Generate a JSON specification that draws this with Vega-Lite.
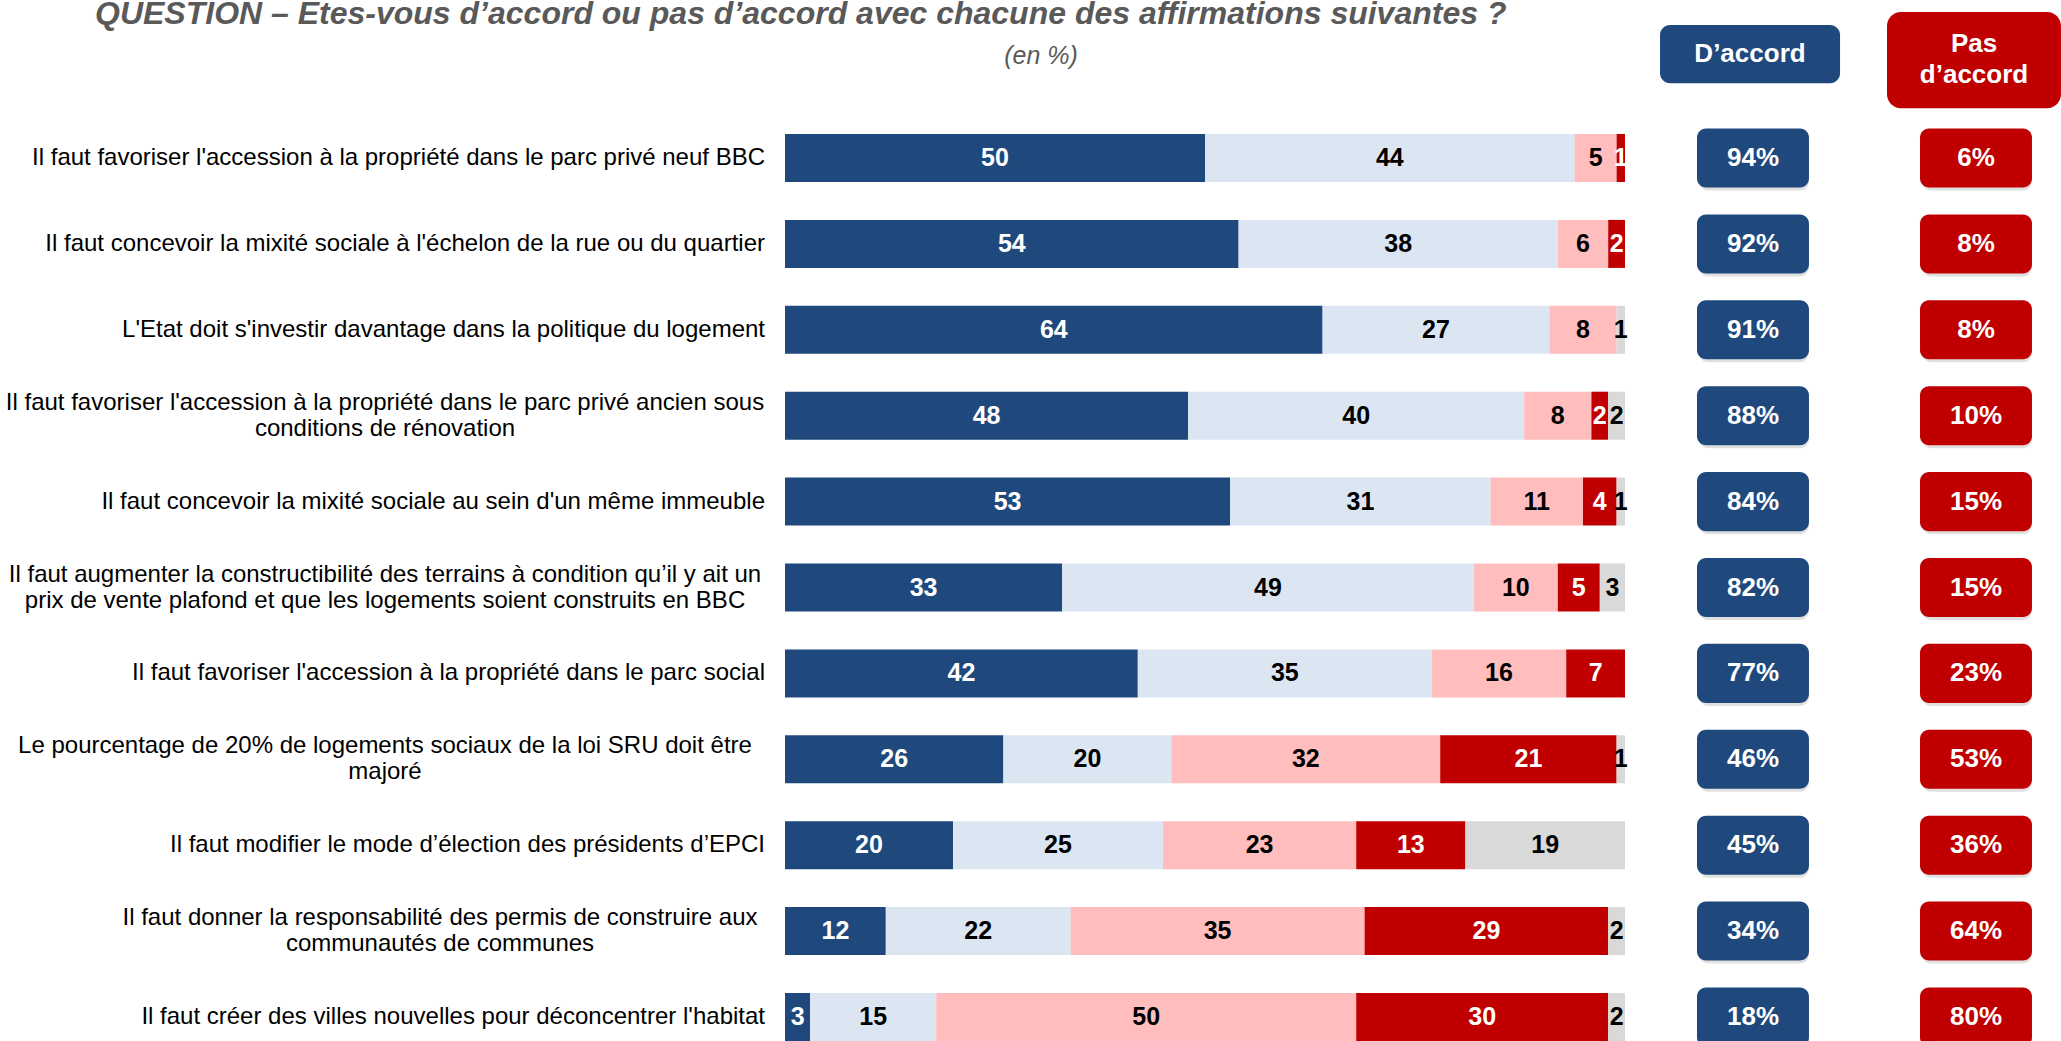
{
  "$schema": "https://vega.github.io/schema/vega-lite/v6.json",
  "width": 1276,
  "height": 1041,
  "autosize": {"type": "none"},
  "padding": {"left": 785, "top": 0, "right": 0, "bottom": 0},
  "background": "white",
  "config": {"view": {"stroke": null}, "text": {"font": "Liberation Sans"}},
  "datasets": {
    "seg": [
      {"id": "q01", "cat": "Tout à fait d’accord", "rang": 1, "value": 50},
      {"id": "q01", "cat": "Plutôt d’accord", "rang": 2, "value": 44},
      {"id": "q01", "cat": "Plutôt pas d’accord", "rang": 3, "value": 5},
      {"id": "q01", "cat": "Pas du tout d’accord", "rang": 4, "value": 1},
      {"id": "q02", "cat": "Tout à fait d’accord", "rang": 1, "value": 54},
      {"id": "q02", "cat": "Plutôt d’accord", "rang": 2, "value": 38},
      {"id": "q02", "cat": "Plutôt pas d’accord", "rang": 3, "value": 6},
      {"id": "q02", "cat": "Pas du tout d’accord", "rang": 4, "value": 2},
      {"id": "q03", "cat": "Tout à fait d’accord", "rang": 1, "value": 64},
      {"id": "q03", "cat": "Plutôt d’accord", "rang": 2, "value": 27},
      {"id": "q03", "cat": "Plutôt pas d’accord", "rang": 3, "value": 8},
      {"id": "q03", "cat": "NSP", "rang": 5, "value": 1},
      {"id": "q04", "cat": "Tout à fait d’accord", "rang": 1, "value": 48},
      {"id": "q04", "cat": "Plutôt d’accord", "rang": 2, "value": 40},
      {"id": "q04", "cat": "Plutôt pas d’accord", "rang": 3, "value": 8},
      {"id": "q04", "cat": "Pas du tout d’accord", "rang": 4, "value": 2},
      {"id": "q04", "cat": "NSP", "rang": 5, "value": 2},
      {"id": "q05", "cat": "Tout à fait d’accord", "rang": 1, "value": 53},
      {"id": "q05", "cat": "Plutôt d’accord", "rang": 2, "value": 31},
      {"id": "q05", "cat": "Plutôt pas d’accord", "rang": 3, "value": 11},
      {"id": "q05", "cat": "Pas du tout d’accord", "rang": 4, "value": 4},
      {"id": "q05", "cat": "NSP", "rang": 5, "value": 1},
      {"id": "q06", "cat": "Tout à fait d’accord", "rang": 1, "value": 33},
      {"id": "q06", "cat": "Plutôt d’accord", "rang": 2, "value": 49},
      {"id": "q06", "cat": "Plutôt pas d’accord", "rang": 3, "value": 10},
      {"id": "q06", "cat": "Pas du tout d’accord", "rang": 4, "value": 5},
      {"id": "q06", "cat": "NSP", "rang": 5, "value": 3},
      {"id": "q07", "cat": "Tout à fait d’accord", "rang": 1, "value": 42},
      {"id": "q07", "cat": "Plutôt d’accord", "rang": 2, "value": 35},
      {"id": "q07", "cat": "Plutôt pas d’accord", "rang": 3, "value": 16},
      {"id": "q07", "cat": "Pas du tout d’accord", "rang": 4, "value": 7},
      {"id": "q08", "cat": "Tout à fait d’accord", "rang": 1, "value": 26},
      {"id": "q08", "cat": "Plutôt d’accord", "rang": 2, "value": 20},
      {"id": "q08", "cat": "Plutôt pas d’accord", "rang": 3, "value": 32},
      {"id": "q08", "cat": "Pas du tout d’accord", "rang": 4, "value": 21},
      {"id": "q08", "cat": "NSP", "rang": 5, "value": 1},
      {"id": "q09", "cat": "Tout à fait d’accord", "rang": 1, "value": 20},
      {"id": "q09", "cat": "Plutôt d’accord", "rang": 2, "value": 25},
      {"id": "q09", "cat": "Plutôt pas d’accord", "rang": 3, "value": 23},
      {"id": "q09", "cat": "Pas du tout d’accord", "rang": 4, "value": 13},
      {"id": "q09", "cat": "NSP", "rang": 5, "value": 19},
      {"id": "q10", "cat": "Tout à fait d’accord", "rang": 1, "value": 12},
      {"id": "q10", "cat": "Plutôt d’accord", "rang": 2, "value": 22},
      {"id": "q10", "cat": "Plutôt pas d’accord", "rang": 3, "value": 35},
      {"id": "q10", "cat": "Pas du tout d’accord", "rang": 4, "value": 29},
      {"id": "q10", "cat": "NSP", "rang": 5, "value": 2},
      {"id": "q11", "cat": "Tout à fait d’accord", "rang": 1, "value": 3},
      {"id": "q11", "cat": "Plutôt d’accord", "rang": 2, "value": 15},
      {"id": "q11", "cat": "Plutôt pas d’accord", "rang": 3, "value": 50},
      {"id": "q11", "cat": "Pas du tout d’accord", "rang": 4, "value": 30},
      {"id": "q11", "cat": "NSP", "rang": 5, "value": 2}
    ],
    "stmt": [
      {"id": "q01", "label": "Il faut favoriser l'accession à la propriété dans le parc privé neuf BBC", "lignes": 1, "accord": 0.94, "pas": 0.06},
      {"id": "q02", "label": "Il faut concevoir la mixité sociale à l'échelon de la rue ou du quartier", "lignes": 1, "accord": 0.92, "pas": 0.08},
      {"id": "q03", "label": "L'Etat doit s'investir davantage dans la politique du logement", "lignes": 1, "accord": 0.91, "pas": 0.08},
      {"id": "q04", "label": "Il faut favoriser l'accession à la propriété dans le parc privé ancien sous\nconditions de rénovation", "lignes": 2, "accord": 0.88, "pas": 0.10},
      {"id": "q05", "label": "Il faut concevoir la mixité sociale au sein d'un même immeuble", "lignes": 1, "accord": 0.84, "pas": 0.15},
      {"id": "q06", "label": "Il faut augmenter la constructibilité des terrains à condition qu’il y ait un\nprix de vente plafond et que les logements soient construits en BBC", "lignes": 2, "accord": 0.82, "pas": 0.15},
      {"id": "q07", "label": "Il faut favoriser l'accession à la propriété dans le parc social", "lignes": 1, "accord": 0.77, "pas": 0.23},
      {"id": "q08", "label": "Le pourcentage de 20% de logements sociaux de la loi SRU doit être\nmajoré", "lignes": 2, "accord": 0.46, "pas": 0.53},
      {"id": "q09", "label": "Il faut modifier le mode d’élection des présidents d’EPCI", "lignes": 1, "accord": 0.45, "pas": 0.36},
      {"id": "q10", "label": "Il faut donner la responsabilité des permis de construire aux\ncommunautés de communes", "lignes": 2, "accord": 0.34, "pas": 0.64},
      {"id": "q11", "label": "Il faut créer des villes nouvelles pour déconcentrer l'habitat", "lignes": 1, "accord": 0.18, "pas": 0.80}
    ],
    "head": [{"id": "H"}]
  },
  "encoding": {
    "y": {
      "field": "id",
      "type": "nominal",
      "axis": null,
      "scale": {
        "type": "band",
        "domain": ["H", "q01", "q02", "q03", "q04", "q05", "q06", "q07", "q08", "q09", "q10", "q11"],
        "paddingInner": 0.441,
        "paddingOuter": 0.28,
        "align": 1,
        "round": false
      }
    }
  },
  "layer": [
    {
      "data": {"name": "seg"},
      "transform": [
        {"stack": "value", "groupby": ["id"], "sort": [{"field": "rang", "order": "ascending"}], "as": ["v0", "v1"]}
      ],
      "mark": {"type": "bar"},
      "encoding": {
        "x": {"field": "v0", "type": "quantitative", "axis": null, "scale": {"domain": [0, 151.905], "nice": false, "zero": false}},
        "x2": {"field": "v1"},
        "color": {
          "field": "cat",
          "type": "nominal",
          "legend": null,
          "scale": {
            "domain": ["Tout à fait d’accord", "Plutôt d’accord", "Plutôt pas d’accord", "Pas du tout d’accord", "NSP"],
            "range": ["#1F497D", "#DCE6F2", "#FFBDBD", "#C00000", "#D9D9D9"]
          }
        }
      }
    },
    {
      "data": {"name": "seg"},
      "transform": [
        {"stack": "value", "groupby": ["id"], "sort": [{"field": "rang", "order": "ascending"}], "as": ["v0", "v1"]},
        {"calculate": "(datum.v0 + datum.v1) / 2", "as": "milieu"}
      ],
      "mark": {"type": "text", "fontSize": 25, "fontWeight": "bold", "baseline": "middle", "align": "center"},
      "encoding": {
        "x": {"field": "milieu", "type": "quantitative"},
        "text": {"field": "value", "type": "quantitative"},
        "color": {
          "condition": {"test": "datum.rang === 1 || datum.rang === 4", "value": "white"},
          "value": "black"
        }
      }
    },
    {
      "data": {"name": "stmt"},
      "transform": [{"filter": "datum.lignes === 1"}],
      "mark": {"type": "text", "fontSize": 24, "align": "right", "baseline": "middle", "color": "black"},
      "encoding": {
        "x": {"datum": -2.381, "type": "quantitative"},
        "text": {"field": "label"}
      }
    },
    {
      "data": {"name": "stmt"},
      "transform": [{"filter": "datum.lignes === 2 && datum.id !== 'q10'"}],
      "mark": {"type": "text", "fontSize": 24, "align": "center", "baseline": "middle", "color": "black", "lineBreak": "\n", "lineHeight": 26, "dy": -13},
      "encoding": {
        "x": {"datum": -47.62, "type": "quantitative"},
        "text": {"field": "label"}
      }
    },
    {
      "data": {"name": "stmt"},
      "transform": [{"filter": "datum.id === 'q10'"}],
      "mark": {"type": "text", "fontSize": 24, "align": "center", "baseline": "middle", "color": "black", "lineBreak": "\n", "lineHeight": 26, "dy": -13},
      "encoding": {
        "x": {"datum": -41.07, "type": "quantitative"},
        "text": {"field": "label"}
      }
    },
    {
      "data": {"name": "stmt"},
      "mark": {"type": "bar", "color": "#000000", "opacity": 0.12, "cornerRadius": 9, "height": {"band": 1.23}, "xOffset": 2, "yOffset": 3},
      "encoding": {
        "x": {"datum": 108.57, "type": "quantitative"},
        "x2": {"datum": 121.9}
      }
    },
    {
      "data": {"name": "stmt"},
      "mark": {"type": "bar", "color": "#1F497D", "cornerRadius": 9, "height": {"band": 1.23}},
      "encoding": {
        "x": {"datum": 108.57, "type": "quantitative"},
        "x2": {"datum": 121.9}
      }
    },
    {
      "data": {"name": "stmt"},
      "mark": {"type": "text", "fontSize": 26, "fontWeight": "bold", "color": "white", "align": "center", "baseline": "middle"},
      "encoding": {
        "x": {"datum": 115.24, "type": "quantitative"},
        "text": {"field": "accord", "type": "quantitative", "format": ".0%"}
      }
    },
    {
      "data": {"name": "stmt"},
      "mark": {"type": "bar", "color": "#000000", "opacity": 0.12, "cornerRadius": 9, "height": {"band": 1.23}, "xOffset": 2, "yOffset": 3},
      "encoding": {
        "x": {"datum": 135.12, "type": "quantitative"},
        "x2": {"datum": 148.45}
      }
    },
    {
      "data": {"name": "stmt"},
      "mark": {"type": "bar", "color": "#C00000", "cornerRadius": 9, "height": {"band": 1.23}},
      "encoding": {
        "x": {"datum": 135.12, "type": "quantitative"},
        "x2": {"datum": 148.45}
      }
    },
    {
      "data": {"name": "stmt"},
      "mark": {"type": "text", "fontSize": 26, "fontWeight": "bold", "color": "white", "align": "center", "baseline": "middle"},
      "encoding": {
        "x": {"datum": 141.79, "type": "quantitative"},
        "text": {"field": "pas", "type": "quantitative", "format": ".0%"}
      }
    },
    {
      "data": {"name": "head"},
      "mark": {"type": "bar", "color": "#1F497D", "cornerRadius": 10, "height": {"band": 1.21}, "yOffset": -18},
      "encoding": {
        "x": {"datum": 104.17, "type": "quantitative"},
        "x2": {"datum": 125.6}
      }
    },
    {
      "data": {"name": "head"},
      "mark": {"type": "text", "text": "D’accord", "fontSize": 26, "fontWeight": "bold", "color": "white", "align": "center", "baseline": "middle", "yOffset": -18},
      "encoding": {
        "x": {"datum": 114.88, "type": "quantitative"}
      }
    },
    {
      "data": {"name": "head"},
      "mark": {"type": "bar", "color": "#C00000", "cornerRadius": 14, "height": {"band": 2.0}, "yOffset": -12},
      "encoding": {
        "x": {"datum": 131.19, "type": "quantitative"},
        "x2": {"datum": 151.9}
      }
    },
    {
      "data": {"name": "head"},
      "mark": {"type": "text", "text": ["Pas", "d’accord"], "fontSize": 26, "fontWeight": "bold", "color": "white", "align": "center", "baseline": "middle", "lineHeight": 31, "yOffset": -28},
      "encoding": {
        "x": {"datum": 141.55, "type": "quantitative"}
      }
    },
    {
      "data": {"name": "head"},
      "mark": {"type": "text", "text": "(en %)", "fontSize": 25, "fontStyle": "italic", "color": "#595959", "align": "center", "baseline": "middle", "yOffset": -16},
      "encoding": {
        "x": {"datum": 30.48, "type": "quantitative"}
      }
    },
    {
      "data": {"name": "head"},
      "mark": {"type": "text", "text": "QUESTION – Etes-vous d’accord ou pas d’accord avec chacune des affirmations suivantes ?", "fontSize": 32, "fontStyle": "italic", "fontWeight": "bold", "color": "#595959", "align": "left", "baseline": "alphabetic", "yOffset": -48},
      "encoding": {
        "x": {"datum": -82.14, "type": "quantitative"}
      }
    }
  ]
}
